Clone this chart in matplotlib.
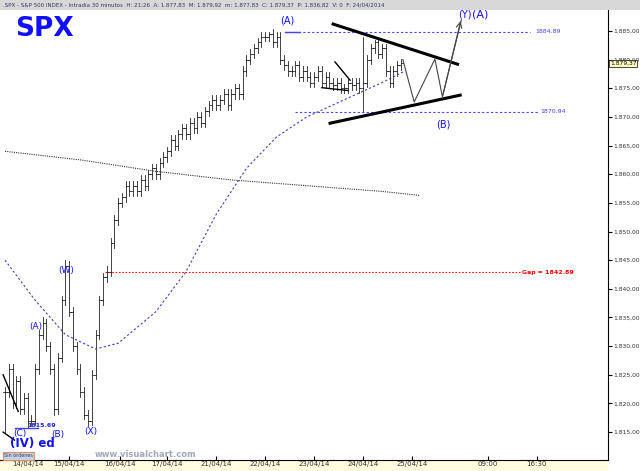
import matplotlib
matplotlib.use("Agg")
import matplotlib.pyplot as plt
import numpy as np

closes = [1822,1826,1820,1824,1819,1821,1817,1817,
          1826,1832,1834,1830,1826,1819,1828,1838,1844,1836,1830,1826,1822,1818,1817,
          1825,1832,1838,1842,1843,1848,1852,1855,1856,1858,
          1857,1858,1857,1859,1858,1860,1861,1860,1862,1863,
          1864,1866,1865,1867,1868,1867,1869,1868,1870,1869,1871,1872,1873,
          1872,1873,1874,1872,1874,1875,1874,1878,1880,1881,1882,1883,1884,
          1884,1884.5,1883,1884,1880,1879,1878,1878,1879,1877,1878,1877,1876,
          1877,1878,1876,1877,1876,1875.5,1876,1875,1875,1876,1875.5,1876,1875,
          1876,1880,1882,1883,1881,1882,1878,1876,1878,1879,1879.37]
high_over = {7:1818, 10:1835, 16:1845, 27:1844, 70:1884.89, 95:1884, 98:1883.5}
low_over = {0:1815, 6:1815.69, 13:1818, 22:1816, 95:1870.94}
wick = 0.8

ma_slow_x = [0, 20, 40, 60, 80, 100, 110]
ma_slow_y = [1864, 1862.5, 1860.5, 1859, 1858, 1857, 1856.3]
ma_fast_x = [0, 8, 16, 24, 30, 40, 48, 56, 64, 72, 80, 90, 100, 106]
ma_fast_y = [1845, 1838, 1832, 1829.5, 1830.5, 1836, 1843, 1853, 1861, 1866.5, 1870, 1873, 1876, 1878]

proj_x = [105.5, 108.5, 114, 116, 121]
proj_y = [1880, 1872.6, 1880.1, 1873.5, 1886.9]

ticks_x = [6, 17, 30.5, 43, 56, 69, 82, 95, 108, 128, 141]
tick_labels = ["14/04/14","15/04/14","16/04/14","17/04/14","21/04/14","22/04/14",
               "23/04/14","24/04/14","25/04/14","09:00","16:30"]

def xi(px):
    return (px - 5) / 3.77

fig = plt.figure(figsize=(6.4, 4.71), dpi=100)
ax = fig.add_axes([0, 0.0234, 0.95, 0.9554])
ax.set_xlim(-1.33, 159.9)
ax.set_ylim(1810.13, 1888.66)

n = len(closes)
opens = [closes[0]] + closes[:-1]
for i in range(n):
    o, c = opens[i], closes[i]
    h = high_over.get(i, max(o, c) + wick)
    l = low_over.get(i, min(o, c) - wick)
    ax.plot([i, i], [l, h], color="#222222", lw=0.6)
    ax.plot([i - 0.45, i], [o, o], color="#222222", lw=0.6)
    ax.plot([i, i + 0.45], [c, c], color="#222222", lw=0.6)

ax.plot(ma_slow_x, ma_slow_y, color="#333333", ls=(0, (1, 1)), lw=0.8)
ax.plot(ma_fast_x, ma_fast_y, color="#4040c0", ls=(0, (2, 2)), lw=0.8)

ax.plot([xi(285), xi(530)], [1884.89]*2, color="#4444ff", ls=(0, (2, 2)), lw=0.8)
ax.text(xi(535), 1884.89, "1884.89", color="#4444ff", fontsize=4.5, va="center")
ax.plot([xi(295), xi(538)], [1870.94]*2, color="#4444ff", ls=(0, (2, 2)), lw=0.8)
ax.text(xi(540), 1870.94, "1870.94", color="#4444ff", fontsize=4.5, va="center")
ax.plot([xi(105), xi(520)], [1842.89]*2, color="red", ls=(0, (1.5, 1.5)), lw=0.8)
ax.text(xi(522), 1842.89, "Gap = 1842.89", color="red", fontsize=4.5, va="center", weight="bold")
ax.plot([xi(15), xi(38)], [1815.69]*2, color="#4444ff", lw=1)
ax.text(xi(27), 1815.9, "1815.69", color="#2222cc", fontsize=4.5, weight="bold")
ax.plot([xi(285), xi(300)], [1884.89]*2, color="#4444ff", lw=1)

ax.plot([87, 120], [1886.2, 1879.2], color="black", lw=2.2)
ax.plot([86.2, 120.7], [1868.9, 1873.8], color="black", lw=2.2)
ax.plot([87.5, 91.5], [1879.6, 1876.4], color="black", lw=1)
ax.plot([84, 91], [1875.1, 1874.6], color="black", lw=1)
ax.plot([-0.5, 3.5], [1825, 1818.6], color="black", lw=1)
ax.plot([-0.5, 2.5], [1815, 1813.6], color="black", lw=1)
ax.plot(proj_x, proj_y, color="#444444", lw=0.8)
ax.annotate("", xy=(proj_x[-1], proj_y[-1] + 0.3), xytext=(proj_x[-2], proj_y[-2]),
            arrowprops=dict(arrowstyle="->", color="#444444", lw=0.8))

blue = "#1010ff"
for (px, py, t, fs) in [(287, 1886.8, "(A)", 7), (465, 1887.8, "(Y)", 7), (480, 1887.8, "(A)", 8),
                        (443, 1868.6, "(B)", 7), (66, 1843.2, "(W)", 6.5), (36, 1833.4, "(A)", 6.5),
                        (58, 1814.5, "(B)", 6.5), (20, 1814.7, "(C)", 6.5), (91, 1815.1, "(X)", 6.5)]:
    ax.text(xi(px), py, t, color=blue, fontsize=fs, ha="center", va="center")
ax.text(xi(10), 1813.0, "(IV) ed", color=blue, fontsize=8.5, weight="bold", va="center")
ax.text(xi(95), 1811.0, "www.visualchart.com", color="#a0a8b8", fontsize=6, weight="bold", va="center")
ax.text(xi(4), 1810.9, "Sin órdenes", color="#333366", fontsize=3.5, va="center",
        bbox=dict(boxstyle="square,pad=0.3", fc="#c8d4e4", ec="#e09060", lw=0.8))
ax.text(xi(15), 1885.3, "SPX", color=blue, fontsize=19, weight="bold", va="center")

ax.set_xticks(ticks_x)
ax.set_xticklabels(tick_labels, fontsize=5, color="#333333")
ax.tick_params(axis="x", length=3, pad=1, direction="in")
ax.yaxis.tick_right()
yt = np.arange(1815, 1886, 5)
ax.set_yticks(yt)
ax.set_yticklabels([f"1.{int(v)-1000:03d},00" for v in yt], fontsize=4.3, color="#333333")
ax.tick_params(axis="y", length=3, pad=1)
ax.text(1.003, (1879.37-1810.13)/(1888.66-1810.13), "1.879,37", transform=ax.transAxes,
        fontsize=4.3, va="center", zorder=5,
        bbox=dict(boxstyle="square,pad=0.15", fc="#ffffc0", ec="black", lw=0.5))
for s in ["top", "left"]:
    ax.spines[s].set_visible(False)

fig.patches.append(plt.Rectangle((0, 0.979), 1, 0.021, transform=fig.transFigure, fc="#d8d8d8", ec="none"))
fig.text(0.005, 0.989, ".SPX - S&P 500 INDEX - Intradia 30 minutos  H: 21:26  A: 1.877,83  M: 1.879,92  m: 1.877,83  C: 1.879,37  P: 1.836,82  V: 0  F: 24/04/2014",
         fontsize=4, va="center", color="#333366")
fig.patches.append(plt.Rectangle((0, 0), 0.95, 0.0234, transform=fig.transFigure, fc="#fffce0", ec="none", zorder=-1))
fig.savefig("out.png", dpi=100)
